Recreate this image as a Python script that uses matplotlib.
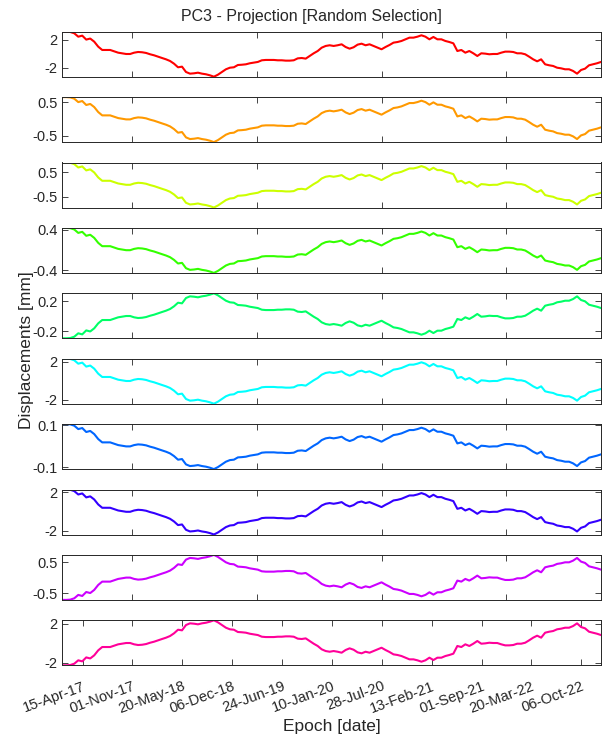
import matplotlib
matplotlib.use('Agg')
import matplotlib.pyplot as plt
import numpy as np
import pandas as pd

plt.rcParams['font.family'] = ['Liberation Sans', 'DejaVu Sans']

# acquisition epochs (one every 16 days)
epochs = pd.date_range('2017-01-24', periods=136, freq='16D')

# PC3 projection as seen in the top panel [mm]
pc3_shape = [
    3.19, 3.19, 3.15, 2.96, 2.47, 2.62, 2.05, 2.20, 1.75, 1.03,
    0.55, 0.55, 0.55, 0.36, 0.16, 0.07, -0.03, -0.03, 0.16, 0.26,
    0.22, 0.12, -0.07, -0.22, -0.42, -0.61, -0.80, -1.04, -1.43, -1.95,
    -1.86, -2.63, -2.87, -2.82,
    -2.73, -2.87, -2.96, -3.11, -3.31, -3.02, -2.63, -2.24, -2.01, -1.95,
    -1.62, -1.58, -1.52, -1.37, -1.28, -1.18, -0.94, -0.89, -0.89, -0.89,
    -0.94, -0.94, -0.99, -0.99, -0.94, -0.66, -0.61, -0.70, -0.32, 0.07,
    0.40, 0.88, 1.13, 1.23,
    1.13, 1.23, 1.37, 0.98, 0.74, 0.94, 1.32, 1.46, 1.23, 1.37,
    1.13, 0.88, 0.65, 0.98, 1.27, 1.61, 1.70, 1.85, 2.09, 2.33,
    2.33, 2.47, 2.67, 2.47, 2.09, 2.43, 2.09, 2.09, 1.85, 1.70,
    1.51, 0.40, 0.55, 0.16,
    0.40, 0.07, -0.32, 0.07, 0.02, -0.07, -0.03, -0.03, 0.16, 0.31,
    0.31, 0.26, 0.07, 0.07, -0.07, -0.42, -0.80, -1.09, -0.80, -1.52,
    -1.66, -1.76, -2.01, -2.10, -2.24, -2.24, -2.48, -2.87, -2.34, -2.15,
    -1.66, -1.52, -1.37, -1.18,
]

# amplitude of each selected point relative to the top one (sign = orientation)
panel_gain = [1.0, 0.207, 0.286, 0.137, -0.0935, 0.724, 0.033, 0.72, -0.223, -0.71]
panel_tick = [2, 0.5, 0.5, 0.4, 0.2, 2, 0.1, 2, 0.5, 2]
panel_colors = ['#ff0000', '#ff9900', '#ccff00', '#33ff00', '#00ff66',
                '#00ffff', '#0066ff', '#3300ff', '#cc00ff', '#ff0099']

date_ticks = pd.date_range('2017-04-15', periods=11, freq='200D')
date_labels = [d.strftime('%d-%b-%y') for d in date_ticks]
auto_ticks = pd.to_datetime(['2017-11-01', '2019-03-16', '2020-07-28', '2021-12-10'])

W, H = 608, 740
fig = plt.figure(figsize=(W / 100, H / 100), dpi=100)
ink = '#262626'
x0, x1 = 62.3, 601.0
top0, step, hgt = 31.7, 65.4, 45.0

for i in range(10):
    top = top0 + i * step
    ax = fig.add_axes([x0 / W, 1 - (top + hgt) / H, (x1 - x0) / W, hgt / H])
    y = np.array(pc3_shape) * panel_gain[i]
    ax.plot(epochs, y, color=panel_colors[i], lw=1.5)
    ax.set_xlim(epochs[0], epochs[-1])
    ax.set_ylim(y.min(), y.max())
    t = panel_tick[i]
    ax.set_yticks([-t, t])
    ax.set_yticklabels([f'{-t:g}', f'{t:g}'])
    for s in ax.spines.values():
        s.set_color(ink)
        s.set_linewidth(0.7)
    ax.tick_params(direction='in', length=4, width=0.6, top=True, right=True,
                   labelsize=10.5, colors=ink)
    ax.tick_params(axis='y', pad=3.5)
    if i < 9:
        ax.set_xticks(auto_ticks)
        ax.set_xticklabels([])
    else:
        ax.set_xticks(date_ticks)
        ax.set_xticklabels(date_labels, rotation=20, ha='right',
                           rotation_mode='anchor')
        ax.tick_params(axis='x', pad=10)

fig.text(311 / W, 1 - 16 / H, 'PC3 - Projection [Random Selection]',
         ha='center', va='center', fontsize=11.5, color=ink)
fig.text((x0 + x1) / 2 / W, 1 - 726 / H, 'Epoch [date]',
         ha='center', va='center', fontsize=12.5, color=ink)
fig.text(26.5 / W, 1 - 350 / H, 'Displacements [mm]', rotation=90,
         ha='center', va='center', fontsize=12.5, color=ink)

fig.savefig('out.png', dpi=100)
